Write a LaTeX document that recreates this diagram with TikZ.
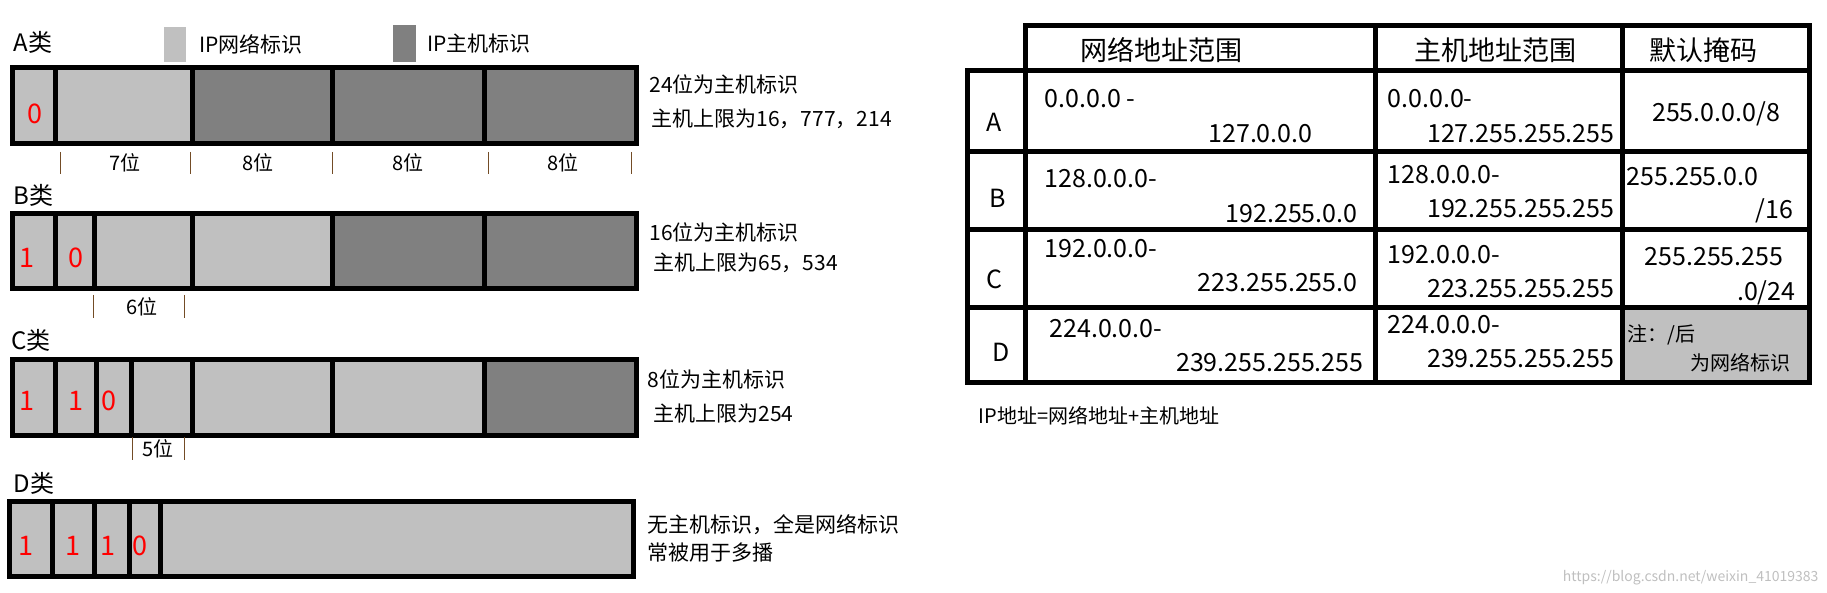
\documentclass[tikz,border=0pt]{standalone}
\usepackage{fontspec}
\setmainfont{Noto Sans CJK SC}
\usetikzlibrary{positioning}
\definecolor{netgray}{HTML}{C0C0C0}
\definecolor{hostgray}{HTML}{808080}
\newcommand{\fsz}[1]{\fontsize{#1}{#1}\selectfont}
\tikzset{
  net/.style={fill=netgray, draw=black, line width=5pt},
  host/.style={fill=hostgray, draw=black, line width=5pt},
  bit/.style={text=red, font=\fsz{27}},
  cls/.style={font=\fsz{24}, anchor=west},
  note/.style={font=\fsz{21}, anchor=west},
  width/.style={font=\fsz{20}},
  tick/.style={line width=1pt, brown!60!black},
  cell/.style={font=\fsz{25}},
  head/.style={font=\fsz{27}},
  tab/.style={line width=5pt}
}
\begin{document}
\begin{tikzpicture}[x=1pt,y=-1pt]
    \useasboundingbox (0,0) rectangle (1827,593);
    % legend
    \node[cls] (clsA) at (10,42) {A类};
    \fill[netgray] (164,27) rectangle (186,62);
    \node[note] (legnet) at (196,44) {IP网络标识};
    \fill[hostgray] (393,25) rectangle (416,62);
    \node[note] (leghost) at (424,44) {IP主机标识};
    % class A
    \foreach \a/\b/\s in {12/55/net, 55/192/net, 192/332/host, 332/484/host, 484/636/host} {
      \draw[\s] (\a,68) rectangle (\b,144);
    }
    \node[bit] (bitA) at (35,114) {0};
    \foreach \p in {60, 190, 332, 488, 631} {
      \draw[tick] (\p,152) -- (\p,174);
    }
    \node[width] (wA1) at (125,163) {7位};
    \node[width] (wA2) at (258,163) {8位};
    \node[width] (wA3) at (408,163) {8位};
    \node[width] (wA4) at (563,163) {8位};
    \node[note] (noteA1) at (646,84) {24位为主机标识};
    \node[note] (noteA2) at (648,119) {主机上限为16，777，214};
    % class B
    \node[cls] (clsB) at (10,195) {B类};
    \foreach \a/\b/\s in {12/55/net, 55/94/net, 94/192/net, 192/332/net, 332/484/host, 484/636/host} {
      \draw[\s] (\a,214) rectangle (\b,289);
    }
    \node[bit] (bitB1) at (27,258) {1};
    \node[bit] (bitB2) at (76,258) {0};
    \foreach \p in {93, 184} {
      \draw[tick] (\p,295) -- (\p,318);
    }
    \node[width] (wB) at (142,307) {6位};
    \node[note] (noteB1) at (646,232) {16位为主机标识};
    \node[note] (noteB2) at (650,263) {主机上限为65，534};
    % class C
    \node[cls] (clsC) at (8,340) {C类};
    \foreach \a/\b/\s in {12/55/net, 55/96/net, 96/131/net, 131/192/net, 192/332/net, 332/484/net, 484/636/host} {
      \draw[\s] (\a,359) rectangle (\b,435);
    }
    \node[bit] (bitC1) at (27,401) {1};
    \node[bit] (bitC2) at (76,401) {1};
    \node[bit] (bitC3) at (109,401) {0};
    \foreach \p in {132, 184} {
      \draw[tick] (\p,437) -- (\p,460);
    }
    \node[width] (wC) at (158,449) {5位};
    \node[note] (noteC1) at (644,379) {8位为主机标识};
    \node[note] (noteC2) at (650,414) {主机上限为254};
    % class D
    \node[cls] (clsD) at (10,483) {D类};
    \foreach \a/\b in {9/52, 52/94, 94/129, 129/160, 160/633} {
      \draw[net] (\a,501) rectangle (\b,576);
    }
    \node[bit] (bitD1) at (26,546) {1};
    \node[bit] (bitD2) at (73,546) {1};
    \node[bit] (bitD3) at (108,546) {1};
    \node[bit] (bitD4) at (140,546) {0};
    \node[note] (noteD1) at (644,525) {无主机标识，全是网络标识};
    \node[note] (noteD2) at (644,553) {常被用于多播};
    % table
    \fill[netgray] (1622,308) rectangle (1807,382);
    \draw[tab] (1025,71) -- (1025,26) -- (1809,26) -- (1809,382) -- (967,382) -- (967,71) -- (1809,71);
    \foreach \y in {152, 230, 308} {
      \draw[tab] (967,\y) -- (1809,\y);
    }
    \foreach \x in {1025, 1375, 1622} {
      \draw[tab] (\x,26) -- (\x,382);
    }
    \node[head] (hnet) at (1161,50) {网络地址范围};
    \node[head] (hhost) at (1495,50) {主机地址范围};
    \node[head] (hmask) at (1703,50) {默认掩码};
    \node[cell] (rA) at (994,122) {A};
    \node[cell] (rB) at (998,198) {B};
    \node[cell] (rC) at (994,279) {C};
    \node[cell] (rD) at (1001,352) {D};
    \node[cell, anchor=west] (nA1) at (1041,99) {0.0.0.0 -};
    \node[cell, anchor=east] (nA2) at (1316,134) {127.0.0.0};
    \node[cell, anchor=west] (nB1) at (1041,179) {128.0.0.0-};
    \node[cell, anchor=east] (nB2) at (1361,214) {192.255.0.0};
    \node[cell, anchor=west] (nC1) at (1041,249) {192.0.0.0-};
    \node[cell, anchor=east] (nC2) at (1361,283) {223.255.255.0};
    \node[cell, anchor=west] (nD1) at (1046,329) {224.0.0.0-};
    \node[cell, anchor=east] (nD2) at (1367,363) {239.255.255.255};
    \node[cell, anchor=west] (hA1) at (1384,99) {0.0.0.0-};
    \node[cell, anchor=east] (hA2) at (1618,134) {127.255.255.255};
    \node[cell, anchor=west] (hB1) at (1384,175) {128.0.0.0-};
    \node[cell, anchor=east] (hB2) at (1618,209) {192.255.255.255};
    \node[cell, anchor=west] (hC1) at (1384,255) {192.0.0.0-};
    \node[cell, anchor=east] (hC2) at (1618,289) {223.255.255.255};
    \node[cell, anchor=west] (hD1) at (1384,325) {224.0.0.0-};
    \node[cell, anchor=east] (hD2) at (1618,359) {239.255.255.255};
    \node[cell] (mA) at (1716,114) {255.0.0.0/8};
    \node[cell, anchor=west] (mB1) at (1623,177) {255.255.0.0};
    \node[cell, anchor=east] (mB2) at (1797,211) {/16};
    \node[cell] (mC1) at (1714,257) {255.255.255};
    \node[cell, anchor=east] (mC2) at (1799,293) {.0/24};
    \node[note, font=\fsz{20}] (mD1) at (1624,335) {注：/后};
    \node[note, font=\fsz{20}, anchor=east] (mD2) at (1794,363) {为网络标识};
    \node[note, font=\fsz{20}] (sum) at (975,416) {IP地址=网络地址+主机地址};
    \node[font=\fsz{14}, text=black!25, anchor=east] (mark) at (1822,578) {https://blog.csdn.net/weixin\_41019383};
  \end{tikzpicture}
\end{document}
